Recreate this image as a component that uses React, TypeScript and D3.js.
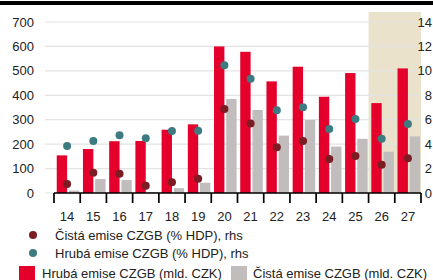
import React, { useEffect, useRef } from 'react';
import * as d3 from 'd3';

// roky (2014-2027), poslední dva jsou odhad
const years = ['14', '15', '16', '17', '18', '19', '20', '21', '22', '23', '24', '25', '26', '27'];
const grossCzk = [154, 180, 212, 213, 259, 281, 600, 578, 457, 517, 394, 491, 368, 510];
const netCzk = [10, 57, 53, 4, 20, 42, 385, 340, 235, 299, 190, 222, 169, 232];
const grossGdp = [3.85, 4.26, 4.72, 4.48, 5.08, 5.1, 10.46, 9.36, 6.77, 7.02, 5.24, 6.06, 4.45, 5.65];
const netGdp = [0.74, 1.66, 1.58, 0.6, 0.88, 1.17, 6.88, 5.7, 3.74, 4.26, 2.78, 3.03, 2.32, 2.84];
const leftTicks = [0, 100, 200, 300, 400, 500, 600, 700];
const rightTicks = [0, 2, 4, 6, 8, 10, 12, 14];
const forecastYears = ['26', '27'];

const RED = '#e4002b';
const GREY = '#c1bdbc';
const TEAL = '#3e7b81';
const DARK = '#7c1d24';

const App = () => {
  const svgRef = useRef<SVGSVGElement>(null);

  useEffect(() => {
    const width = 433;
    const height = 280;
    const svg = d3.select(svgRef.current);
    svg.selectAll('*').remove();
    svg.attr('width', width).attr('height', height).style('font-family', '"Liberation Sans", Arial, sans-serif');

    const x = d3.scaleBand().domain(years).range([54, 421]).padding(0);
    const inner = d3.scaleBand().domain(['gross', 'net']).range([0, x.bandwidth()])
      .paddingInner(0.15).paddingOuter(0.15).align(0.75);
    const y = d3.scaleLinear().domain([0, 700]).range([193, 22]);
    const y2 = d3.scaleLinear().domain([0, 14]).range([193, 22]);

    // black band at top
    svg.append('rect').attr('x', 0).attr('y', 1).attr('width', width).attr('height', 4).attr('fill', '#000');

    // forecast shading
    const fx0 = x(forecastYears[0])!;
    svg.append('rect')
      .attr('x', fx0).attr('y', 12)
      .attr('width', 421 - fx0).attr('height', 193 - 12)
      .attr('fill', '#ebe2cc');

    // grid
    svg.append('g').selectAll('line').data(leftTicks).join('line')
      .attr('x1', 45).attr('x2', 421)
      .attr('y1', d => y(d)).attr('y2', d => y(d))
      .attr('stroke', '#e3e3e3').attr('stroke-width', 1.2);

    // left labels
    svg.append('g').selectAll('text').data(leftTicks).join('text')
      .attr('x', 34).attr('y', d => y(d)).attr('dy', '0.35em')
      .attr('text-anchor', 'end').style('font-size', '13px').style('fill', '#222')
      .text(d => d);

    // right labels
    svg.append('g').selectAll('text').data(rightTicks).join('text')
      .attr('x', 432).attr('y', d => y2(d)).attr('dy', '0.35em')
      .attr('text-anchor', 'end').style('font-size', '13px').style('fill', '#222')
      .text(d => d);

    // bars
    svg.append('g').selectAll('rect').data(years).join('rect')
      .attr('x', d => x(d)! + inner('gross')!)
      .attr('width', inner.bandwidth())
      .attr('y', (d, i) => y(grossCzk[i]))
      .attr('height', (d, i) => 193 - y(grossCzk[i]))
      .attr('fill', RED);
    svg.append('g').selectAll('rect').data(years).join('rect')
      .attr('x', d => x(d)! + inner('net')!)
      .attr('width', inner.bandwidth())
      .attr('y', (d, i) => y(netCzk[i]))
      .attr('height', (d, i) => 193 - y(netCzk[i]))
      .attr('fill', GREY);

    // dots
    svg.append('g').selectAll('circle').data(years).join('circle')
      .attr('cx', d => x(d)! + x.bandwidth() / 2)
      .attr('cy', (d, i) => y2(grossGdp[i]))
      .attr('r', 4).attr('fill', TEAL);
    svg.append('g').selectAll('circle').data(years).join('circle')
      .attr('cx', d => x(d)! + x.bandwidth() / 2)
      .attr('cy', (d, i) => y2(netGdp[i]))
      .attr('r', 4).attr('fill', DARK);

    // x axis
    svg.append('line').attr('x1', 54).attr('x2', 421).attr('y1', 193).attr('y2', 193)
      .attr('stroke', '#000').attr('stroke-width', 1.5);
    const bounds = years.map(d => x(d)!).concat([421]);
    svg.append('g').selectAll('line').data(bounds).join('line')
      .attr('x1', d => d).attr('x2', d => d).attr('y1', 193).attr('y2', 203)
      .attr('stroke', '#000').attr('stroke-width', 1.7);
    svg.append('g').selectAll('text').data(years).join('text')
      .attr('x', d => x(d)! + x.bandwidth() / 2).attr('y', 216).attr('dy', '0.35em')
      .attr('text-anchor', 'middle').style('font-size', '13px').style('fill', '#222')
      .text(d => d);

    // legend
    const lg = svg.append('g').style('font-size', '13px').style('fill', '#222');
    lg.append('circle').attr('cx', 33).attr('cy', 235).attr('r', 4).attr('fill', DARK);
    lg.append('text').attr('x', 55).attr('y', 235).attr('dy', '0.35em').text('Čistá emise CZGB (% HDP), rhs');
    lg.append('circle').attr('cx', 33).attr('cy', 253).attr('r', 4).attr('fill', TEAL);
    lg.append('text').attr('x', 55).attr('y', 253).attr('dy', '0.35em').text('Hrubá emise CZGB (% HDP), rhs');
    lg.append('rect').attr('x', 19).attr('y', 266).attr('width', 16).attr('height', 16).attr('fill', RED);
    lg.append('text').attr('x', 42).attr('y', 273).attr('dy', '0.35em').text('Hrubá emise CZGB (mld. CZK)');
    lg.append('rect').attr('x', 231).attr('y', 266).attr('width', 16).attr('height', 16).attr('fill', GREY);
    lg.append('text').attr('x', 253).attr('y', 273).attr('dy', '0.35em').text('Čistá emise CZGB (mld. CZK)');
  }, []);

  return (
    <div style={{ position: 'absolute', left: 0, top: 0, width: 433, height: 280, overflow: 'hidden', background: '#fff' }}>
      <svg ref={svgRef} style={{ display: 'block' }}></svg>
    </div>
  );
};

export default App;
